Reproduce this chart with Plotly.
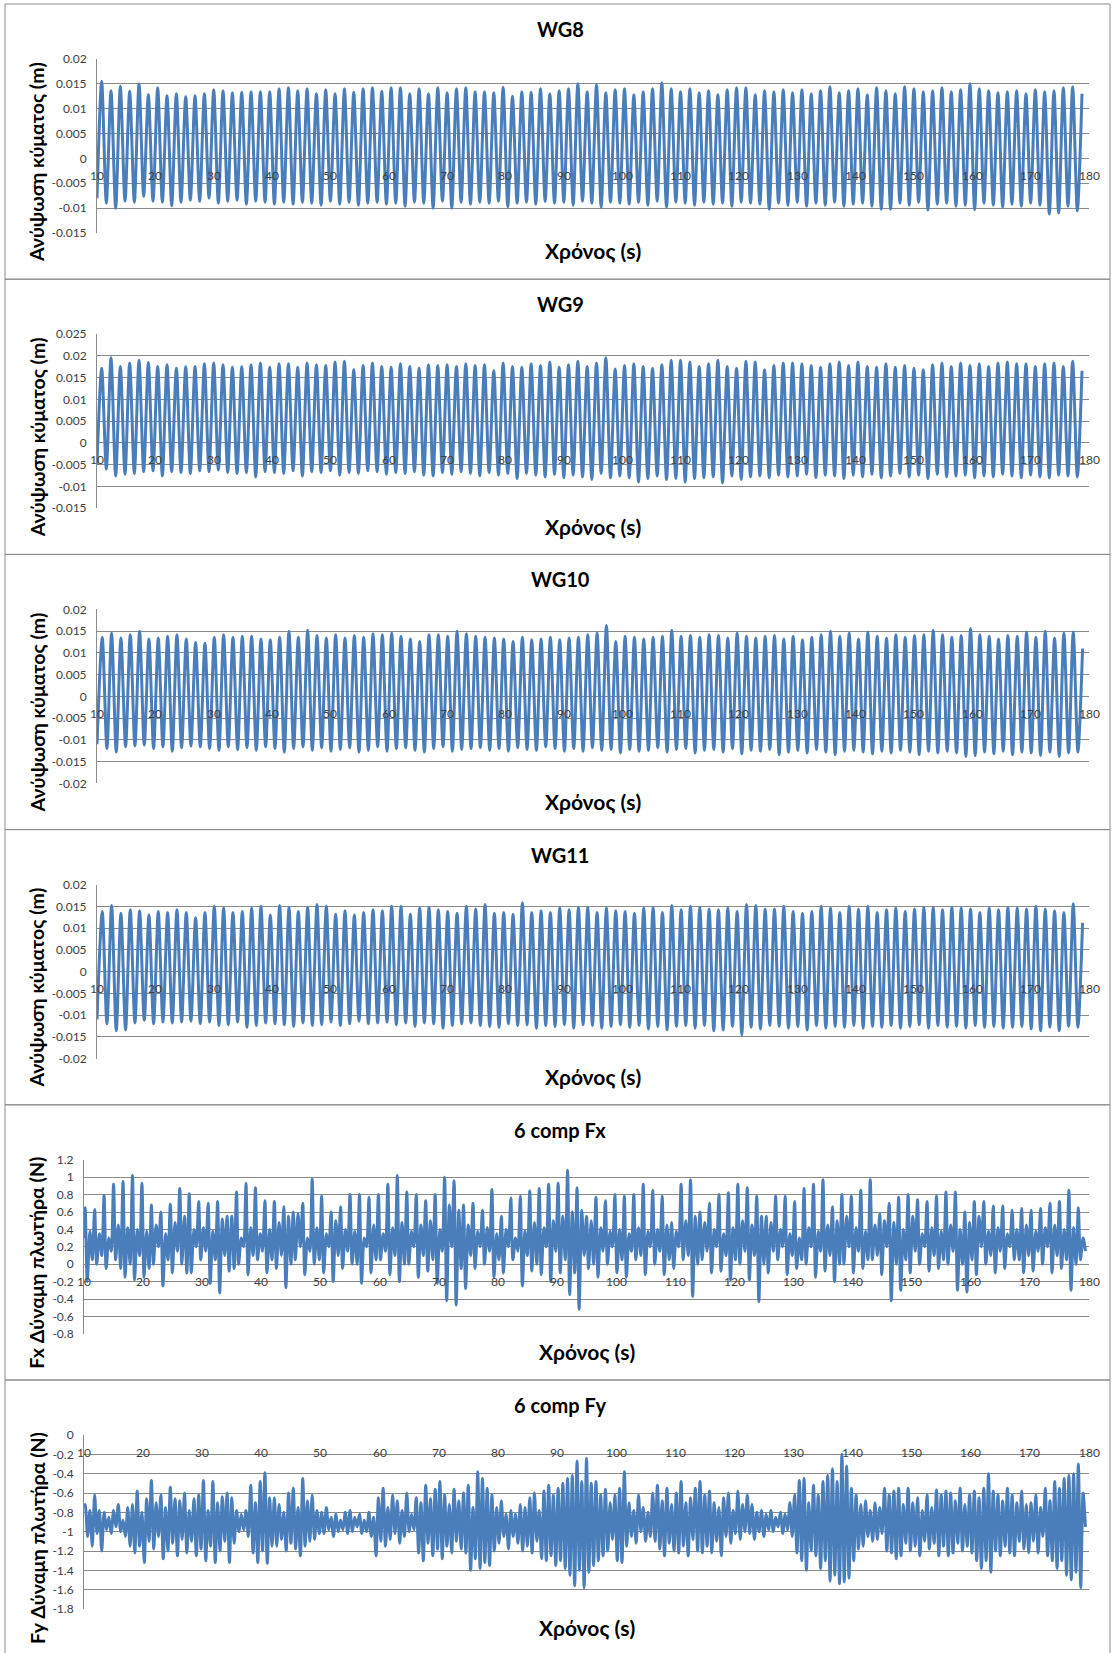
import plotly.graph_objects as go

# ---------------- DATA ----------------
# Wave gauges: crest and trough elevation of each wave cycle (mm)
WG8_PEAK_MM = [15.5,13.6,14.5,13.5,15.0,12.8,14.2,12.6,13.0,12.4,
               12.6,13.0,13.8,13.6,13.2,13.3,13.4,13.4,13.4,14.0,
               14.2,13.6,14.0,13.0,13.8,13.0,14.0,13.3,14.0,14.2,
               13.5,14.2,14.2,13.0,14.0,13.0,14.2,13.2,14.0,14.2,
               13.4,13.4,13.2,14.3,12.5,13.4,13.3,14.0,13.0,13.6,
               14.0,15.0,13.4,14.8,13.2,13.8,14.0,12.8,13.4,14.0,
               15.2,14.0,13.4,14.0,13.2,13.6,12.8,13.8,14.2,14.2,
               12.8,13.6,13.4,13.8,13.2,13.8,13.0,13.6,14.4,13.2,
               13.6,14.0,12.8,14.2,13.6,13.0,14.4,14.0,13.4,13.6,
               14.2,13.4,13.8,15.0,14.0,13.6,13.2,13.4,13.6,13.0,
               13.8,13.4,13.6,14.2,14.4,13.0]
WG8_TROUGH_MM = [-9.0,-10.0,-8.6,-8.8,-7.6,-8.6,-8.8,-9.5,-8.8,-8.4,
                 -8.6,-8.0,-9.0,-8.6,-8.4,-9.2,-8.6,-8.8,-9.2,-8.8,
                 -9.2,-8.8,-9.0,-9.4,-8.6,-9.2,-8.8,-9.4,-9.0,-8.8,
                 -9.2,-9.0,-9.6,-8.8,-9.0,-10.0,-8.6,-10.0,-8.8,-9.2,
                 -8.8,-9.0,-8.6,-9.7,-9.0,-8.8,-9.2,-8.6,-9.0,-8.8,
                 -9.4,-8.6,-9.0,-9.8,-8.8,-9.0,-9.2,-8.8,-9.4,-8.6,
                 -9.8,-8.8,-9.0,-9.4,-8.8,-9.2,-9.0,-9.6,-8.8,-9.0,
                 -9.2,-10.2,-9.0,-9.4,-8.8,-9.6,-9.0,-9.4,-8.8,-9.6,
                 -9.2,-9.0,-9.6,-10.2,-10.2,-9.0,-9.4,-8.8,-10.4,-9.2,
                 -9.0,-9.6,-9.4,-10.3,-9.0,-9.4,-9.8,-9.2,-9.6,-9.0,
                 -9.4,-11.2,-11.0,-9.6,-10.5]

WG9_PEAK_MM = [17.2,19.6,17.6,18.4,19.0,18.5,17.6,18.0,17.2,17.5,
               17.6,18.2,18.4,18.0,17.4,17.5,18.0,18.4,17.4,18.2,
               18.2,17.4,18.4,18.0,17.8,18.6,18.8,16.8,17.8,18.4,
               17.6,17.4,18.2,17.6,17.2,18.0,17.8,18.0,17.6,18.2,
               17.8,18.0,16.6,18.4,17.6,17.4,18.2,17.8,18.6,17.4,
               18.0,18.8,17.6,18.4,19.6,17.0,17.8,18.2,17.6,17.2,
               18.0,19.0,19.0,18.6,17.6,18.2,19.0,17.6,17.2,18.8,
               18.6,16.8,17.8,18.4,18.4,18.2,17.8,17.4,18.2,18.6,
               17.8,18.6,17.6,17.4,18.2,17.4,17.8,17.2,16.8,18.0,
               18.4,17.6,18.4,17.8,18.2,17.6,18.4,18.6,18.2,18.2,
               17.6,18.2,18.4,17.6,18.8,16.6]
WG9_TROUGH_MM = [-6.0,-7.6,-7.2,-7.0,-6.6,-6.4,-7.6,-6.6,-6.8,-7.0,
                 -6.4,-6.6,-6.2,-6.8,-7.0,-6.8,-7.8,-6.6,-6.8,-7.0,
                 -6.4,-7.6,-6.6,-6.8,-6.4,-7.4,-6.8,-7.0,-6.4,-6.6,
                 -7.2,-6.8,-7.0,-6.6,-7.4,-7.6,-6.8,-7.2,-6.6,-7.0,
                 -7.6,-6.8,-7.4,-7.0,-8.2,-7.0,-7.4,-7.8,-7.2,-8.0,
                 -7.4,-7.8,-8.4,-7.0,-8.0,-7.6,-8.0,-9.0,-8.2,-7.6,
                 -8.4,-8.2,-9.0,-8.2,-8.0,-7.8,-9.2,-7.6,-8.4,-7.8,
                 -7.6,-8.0,-7.4,-7.8,-7.6,-7.2,-8.0,-7.4,-7.6,-8.2,
                 -7.4,-7.8,-7.2,-8.0,-7.6,-7.0,-7.8,-7.4,-8.2,-7.2,
                 -7.8,-7.6,-7.4,-8.0,-7.6,-7.8,-7.2,-7.6,-8.0,-7.4,
                 -7.8,-8.0,-7.4,-7.6,-7.8]

WG10_PEAK_MM = [13.6,14.6,13.4,14.2,15.0,13.2,13.4,13.8,14.2,13.2,
                12.4,12.2,13.6,14.2,13.6,13.8,13.8,13.2,13.0,13.6,
                15.0,13.6,15.2,14.0,13.4,14.2,13.4,14.0,13.6,14.4,
                14.2,14.6,13.8,13.2,12.6,14.2,14.2,13.8,15.0,14.4,
                13.8,13.6,13.4,13.2,12.6,13.6,13.0,13.2,13.6,13.0,
                13.4,13.6,14.2,14.6,16.3,12.6,13.8,13.6,13.2,13.6,
                13.8,15.2,13.8,14.0,13.6,14.2,14.0,13.4,14.6,13.8,
                13.4,13.8,14.0,13.2,13.8,13.0,13.6,14.2,15.0,13.8,
                14.6,13.2,14.8,13.8,13.4,14.2,13.6,14.0,14.2,15.2,
                14.2,13.6,14.0,15.6,14.2,13.8,13.2,14.0,13.8,14.8,
                13.6,15.0,13.4,14.6,14.8,11.0]
WG10_TROUGH_MM = [-12.0,-12.8,-11.6,-11.4,-11.2,-12.0,-11.6,-12.6,-11.8,-11.4,
                  -11.6,-12.0,-12.4,-11.6,-12.2,-11.8,-12.4,-11.6,-12.0,-12.8,
                  -12.0,-11.6,-12.4,-11.8,-12.6,-12.2,-11.8,-12.8,-12.4,-11.6,
                  -12.6,-12.0,-11.8,-12.4,-12.8,-12.0,-11.6,-12.6,-12.2,-12.0,
                  -11.8,-12.4,-12.0,-12.6,-11.8,-12.2,-12.4,-11.6,-12.0,-12.6,
                  -12.0,-12.6,-11.8,-12.4,-12.2,-13.0,-12.2,-12.6,-12.4,-11.8,
                  -12.8,-12.2,-12.0,-13.0,-12.4,-12.2,-12.8,-12.0,-13.2,-12.4,
                  -12.6,-12.2,-13.4,-12.8,-12.4,-13.0,-12.2,-12.8,-13.4,-12.6,
                  -12.4,-12.8,-13.2,-12.6,-13.0,-12.4,-12.8,-13.4,-12.6,-13.0,
                  -12.6,-13.0,-13.8,-13.6,-12.8,-13.2,-12.6,-13.4,-12.8,-13.0,
                  -13.6,-12.8,-13.8,-13.0,-12.8]

WG11_PEAK_MM = [13.8,15.2,13.4,14.2,14.0,13.0,13.8,13.6,14.2,13.6,
                12.4,13.6,15.0,14.6,13.6,13.8,14.6,15.0,13.0,15.2,
                14.8,13.8,14.8,15.4,15.0,13.2,14.0,13.0,13.6,14.2,
                14.0,15.0,15.0,13.2,14.6,14.8,14.2,13.8,13.4,15.0,
                14.4,15.4,13.4,13.6,13.2,15.8,13.6,14.0,13.6,14.6,
                14.2,14.8,14.8,13.6,14.6,14.0,13.8,13.4,14.6,14.8,
                13.6,15.2,14.2,15.0,14.8,14.4,14.2,14.6,13.8,15.4,
                15.2,14.4,14.4,15.0,13.8,13.4,13.8,15.0,14.6,13.6,
                15.0,14.4,15.0,13.6,14.2,14.6,13.8,14.4,14.8,14.8,
                14.2,14.8,14.6,14.4,13.6,14.6,14.2,14.8,14.6,14.4,
                15.0,14.4,14.0,13.6,15.6,11.2]
WG11_TROUGH_MM = [-12.0,-13.6,-13.4,-11.8,-11.2,-12.0,-11.6,-11.8,-11.6,-11.4,
                  -12.0,-11.6,-12.4,-12.2,-11.6,-12.8,-12.4,-11.8,-12.0,-12.2,
                  -12.6,-11.8,-12.4,-12.2,-11.6,-12.4,-12.0,-11.4,-12.0,-11.8,
                  -11.6,-12.2,-11.8,-12.6,-11.8,-12.0,-13.0,-12.4,-12.0,-11.8,
                  -12.4,-12.6,-12.8,-12.0,-12.4,-12.2,-13.0,-12.4,-12.6,-12.2,
                  -13.0,-12.2,-12.4,-13.0,-12.6,-12.2,-12.8,-12.4,-13.2,-12.6,
                  -13.4,-12.6,-12.4,-13.0,-12.4,-13.6,-13.4,-12.6,-14.5,-12.8,
                  -13.2,-12.4,-12.6,-13.0,-12.6,-13.4,-12.4,-13.0,-12.6,-12.8,
                  -12.4,-13.0,-12.6,-12.8,-12.4,-13.0,-12.6,-12.2,-13.0,-12.4,
                  -12.8,-12.6,-13.0,-12.4,-12.8,-12.6,-13.0,-12.8,-12.6,-13.2,
                  -13.6,-12.8,-13.6,-12.6,-12.8]

# Fx (N): per wave cycle -> main spike, deep trough, secondary bump, dip
FX_PEAK = [0.65,0.63,0.79,0.92,0.95,1.02,0.93,0.68,0.60,0.69,
           0.87,0.81,0.72,0.70,0.72,0.55,0.83,0.93,0.88,0.73,
           0.72,0.66,0.60,0.70,0.98,0.78,0.60,0.66,0.80,0.80,
           0.77,0.80,0.92,1.02,0.83,0.80,0.73,0.80,1.00,0.96,
           0.68,0.70,0.62,0.86,0.55,0.76,0.78,0.84,0.87,0.92,
           0.93,1.08,0.88,0.55,0.77,0.73,0.80,0.78,0.80,0.92,
           0.85,0.78,0.48,0.92,0.97,0.60,0.70,0.80,0.82,0.92,
           0.88,0.78,0.55,0.78,0.78,0.72,0.87,0.92,0.97,0.66,
           0.80,0.78,0.85,0.97,0.58,0.70,0.77,0.80,0.74,0.72,
           0.78,0.83,0.83,0.60,0.72,0.72,0.67,0.67,0.62,0.64,
           0.62,0.64,0.70,0.72,0.85,0.65]
FX_LOW = [-0.20,0.00,-0.05,0.05,-0.15,-0.18,-0.15,0.00,-0.25,-0.10,
          0.00,-0.10,0.05,-0.22,-0.33,-0.08,0.00,-0.12,0.05,-0.10,
          -0.05,-0.27,0.05,-0.12,0.00,-0.10,-0.20,-0.05,0.00,-0.22,
          -0.10,0.05,-0.12,-0.20,0.00,-0.15,-0.08,-0.22,-0.42,-0.47,
          -0.28,-0.05,0.00,-0.15,-0.10,0.05,-0.25,-0.08,-0.12,-0.20,
          -0.10,-0.35,-0.52,-0.05,-0.15,0.00,-0.10,-0.15,0.05,-0.12,
          0.00,-0.12,-0.05,0.05,-0.37,0.05,-0.10,-0.08,-0.18,0.00,
          -0.18,-0.43,-0.10,0.05,-0.12,-0.05,0.00,-0.15,-0.08,-0.20,
          0.00,-0.10,-0.05,0.05,-0.12,-0.42,-0.30,-0.10,0.00,-0.08,
          -0.05,0.00,-0.30,-0.32,-0.12,0.00,-0.10,-0.05,0.05,-0.10,
          -0.08,0.00,-0.10,-0.05,-0.30,0.05]
FX_MID = [0.38,0.35,0.30,0.45,0.42,0.40,0.38,0.45,0.35,0.48,
          0.55,0.40,0.42,0.38,0.52,0.55,0.30,0.42,0.35,0.40,
          0.48,0.55,0.58,0.30,0.42,0.35,0.50,0.40,0.38,0.30,
          0.45,0.35,0.42,0.48,0.38,0.45,0.50,0.40,0.68,0.62,
          0.45,0.38,0.42,0.35,0.40,0.30,0.38,0.48,0.42,0.50,
          0.55,0.60,0.62,0.50,0.42,0.38,0.40,0.35,0.42,0.38,
          0.40,0.45,0.38,0.50,0.55,0.48,0.40,0.35,0.42,0.50,
          0.45,0.55,0.48,0.40,0.35,0.30,0.42,0.38,0.45,0.50,
          0.55,0.42,0.38,0.45,0.50,0.48,0.40,0.55,0.35,0.42,
          0.38,0.45,0.40,0.48,0.55,0.38,0.42,0.35,0.40,0.45,
          0.38,0.42,0.45,0.40,0.42,0.30]
FX_DIP = [0.05,0.10,0.15,-0.05,0.00,0.10,-0.05,0.20,0.05,0.15,
          -0.10,0.20,0.15,0.05,0.10,-0.05,0.20,0.10,0.15,0.05,
          0.10,0.00,0.20,0.15,0.05,0.20,0.10,0.15,0.00,0.20,
          0.05,0.15,0.10,0.00,0.20,0.10,0.05,0.15,0.20,-0.05,
          0.10,0.20,0.15,0.05,0.20,0.15,0.10,0.00,0.20,0.15,
          0.05,-0.10,0.10,0.00,0.15,0.20,0.05,0.15,0.10,0.20,
          0.15,0.05,0.20,0.10,0.00,0.15,0.20,0.10,0.05,0.15,
          0.10,0.00,0.15,0.20,0.10,0.05,0.20,0.15,0.10,0.00,
          0.20,0.15,0.05,0.10,0.20,0.00,0.05,0.15,0.20,0.10,
          0.05,0.15,0.00,0.05,0.20,0.10,0.15,0.20,0.05,0.10,
          0.15,0.20,0.10,0.05,0.00,0.15]

# Fy (N): alternating local maxima / minima (half-cycle of 0.8 s)
FY_UP = [-0.72,-0.78,-0.62,-0.78,-0.80,-0.85,-0.78,-0.72,-0.88,-0.75,
         -0.72,-0.58,-0.80,-0.66,-0.47,-0.70,-0.62,-0.75,-0.54,-0.66,
         -0.68,-0.60,-0.78,-0.66,-0.62,-0.47,-0.78,-0.48,-0.70,-0.64,
         -0.60,-0.65,-0.78,-0.82,-0.78,-0.52,-0.70,-0.48,-0.39,-0.65,
         -0.65,-0.72,-0.80,-0.60,-0.55,-0.75,-0.45,-0.68,-0.62,-0.78,
         -0.80,-0.75,-0.85,-0.82,-0.88,-0.80,-0.78,-0.85,-0.82,-0.88,
         -0.80,-0.85,-0.65,-0.55,-0.75,-0.62,-0.68,-0.78,-0.60,-0.82,
         -0.65,-0.70,-0.52,-0.66,-0.56,-0.48,-0.62,-0.72,-0.56,-0.68,
         -0.60,-0.52,-0.75,-0.38,-0.45,-0.55,-0.62,-0.75,-0.68,-0.82,
         -0.78,-0.82,-0.72,-0.75,-0.65,-0.60,-0.78,-0.58,-0.52,-0.62,
         -0.55,-0.50,-0.45,-0.42,-0.27,-0.48,-0.24,-0.50,-0.48,-0.62,
         -0.56,-0.70,-0.62,-0.55,-0.38,-0.70,-0.78,-0.62,-0.75,-0.80,
         -0.60,-0.52,-0.68,-0.55,-0.72,-0.60,-0.48,-0.70,-0.65,-0.55,
         -0.48,-0.62,-0.58,-0.70,-0.75,-0.65,-0.60,-0.78,-0.58,-0.72,
         -0.62,-0.72,-0.80,-0.78,-0.82,-0.78,-0.85,-0.80,-0.82,-0.70,
         -0.62,-0.47,-0.45,-0.70,-0.52,-0.62,-0.48,-0.42,-0.35,-0.48,
         -0.20,-0.32,-0.55,-0.62,-0.72,-0.68,-0.78,-0.70,-0.75,-0.55,
         -0.62,-0.58,-0.55,-0.72,-0.55,-0.70,-0.65,-0.78,-0.62,-0.75,
         -0.57,-0.62,-0.58,-0.60,-0.68,-0.55,-0.72,-0.62,-0.58,-0.65,
         -0.55,-0.40,-0.58,-0.62,-0.68,-0.55,-0.62,-0.70,-0.58,-0.72,
         -0.70,-0.62,-0.75,-0.55,-0.68,-0.48,-0.55,-0.45,-0.42,-0.40,
         -0.30,-0.60]
FY_DOWN = [-1.05,-1.15,-1.02,-1.20,-0.98,-1.02,-0.95,-1.00,-1.05,-1.15,
           -1.22,-1.15,-1.32,-1.10,-1.18,-1.05,-1.28,-1.20,-1.12,-1.25,
           -1.08,-1.22,-1.10,-1.25,-1.18,-1.30,-1.15,-1.32,-1.20,-1.10,
           -1.32,-1.12,-1.00,-0.98,-1.05,-1.22,-1.32,-1.20,-1.33,-1.15,
           -1.15,-1.08,-1.20,-1.12,-1.18,-1.25,-1.15,-1.10,-1.08,-1.02,
           -1.02,-0.98,-1.05,-1.00,-0.98,-1.02,-1.00,-0.95,-1.02,-1.00,
           -1.05,-1.25,-1.10,-1.15,-1.08,-1.02,-1.12,-1.05,-1.00,-0.98,
           -1.22,-1.30,-1.12,-1.25,-1.18,-1.28,-1.15,-1.22,-1.10,-1.18,
           -1.22,-1.40,-1.28,-1.38,-1.32,-1.35,-1.20,-1.12,-1.05,-1.18,
           -1.05,-1.12,-1.20,-1.15,-1.22,-1.10,-1.28,-1.30,-1.25,-1.35,
           -1.30,-1.38,-1.45,-1.56,-1.40,-1.58,-1.42,-1.35,-1.30,-1.25,
           -1.20,-1.08,-1.30,-1.32,-1.15,-1.05,-1.12,-1.00,-1.10,-1.05,
           -1.10,-1.18,-1.25,-1.12,-1.20,-1.22,-1.15,-1.25,-1.08,-1.20,
           -1.22,-1.15,-1.22,-1.10,-1.25,-1.05,-1.12,-1.02,-1.08,-1.00,
           -1.02,-1.08,-1.00,-1.05,-0.98,-1.00,-0.95,-1.02,-0.98,-1.05,
           -1.22,-1.30,-1.40,-1.20,-1.25,-1.38,-1.30,-1.51,-1.45,-1.54,
           -1.52,-1.48,-1.30,-1.18,-1.15,-1.05,-1.10,-1.08,-1.02,-1.20,
           -1.22,-1.28,-1.25,-1.12,-1.20,-1.15,-1.25,-1.10,-1.18,-1.12,
           -1.25,-1.15,-1.25,-1.22,-1.12,-1.20,-1.15,-1.22,-1.30,-1.38,
           -1.30,-1.42,-1.20,-1.25,-1.15,-1.22,-1.25,-1.10,-1.18,-1.22,
           -1.10,-1.22,-1.05,-1.25,-1.30,-1.38,-1.30,-1.45,-1.50,-1.42,
           -1.58,-0.95]

X_TICKS = [10, 20, 30, 40, 50, 60, 70, 80, 90, 100, 110, 120, 130, 140, 150, 160, 170, 180]

TITLES = ["WG8", "WG9", "WG10", "WG11", "6 comp Fx", "6 comp Fy"]
Y_TITLES = ["Ανύψωση κύματος (m)"] * 4 + ["Fx Δύναμη πλωτήρα (N)", "Fy Δύναμη πλωτήρα (N)"]
X_TITLE = "Χρόνος (s)"

Y_TICKS = [
    ["-0.015", "-0.01", "-0.005", "0", "0.005", "0.01", "0.015", "0.02"],
    ["-0.015", "-0.01", "-0.005", "0", "0.005", "0.01", "0.015", "0.02", "0.025"],
    ["-0.02", "-0.015", "-0.01", "-0.005", "0", "0.005", "0.01", "0.015", "0.02"],
    ["-0.02", "-0.015", "-0.01", "-0.005", "0", "0.005", "0.01", "0.015", "0.02"],
    ["-0.8", "-0.6", "-0.4", "-0.2", "0", "0.2", "0.4", "0.6", "0.8", "1", "1.2"],
    ["-1.8", "-1.6", "-1.4", "-1.2", "-1", "-0.8", "-0.6", "-0.4", "-0.2", "0"],
]

# ---------------- SERIES BUILDING ----------------
T_WAVE = 1.6


def wave_series(start_val, peaks_mm, troughs_mm, t_first=10.8):
    t, v = [10.0], [start_val / 1000.0]
    for i, p in enumerate(peaks_mm):
        t.append(t_first + T_WAVE * i)
        v.append(p / 1000.0)
        if i < len(troughs_mm):
            t.append(t_first + T_WAVE * i + T_WAVE / 2)
            v.append(troughs_mm[i] / 1000.0)
    return t, v


def fx_series():
    t, v = [10.0], [0.30]
    for i in range(len(FX_PEAK)):
        base = 10.2 + T_WAVE * i
        for off, arr in ((0.0, FX_PEAK), (0.35, FX_LOW), (0.8, FX_MID), (1.2, FX_DIP)):
            t.append(base + off)
            v.append(arr[i])
    return t, v


def fy_series():
    t, v = [10.0], [-0.75]
    for j in range(len(FY_UP)):
        t.append(10.2 + 0.8 * j)
        v.append(FY_UP[j])
        t.append(10.6 + 0.8 * j)
        v.append(FY_DOWN[j])
    return t, v


series = [
    wave_series(-8.0, WG8_PEAK_MM, WG8_TROUGH_MM),
    wave_series(-5.0, WG9_PEAK_MM, WG9_TROUGH_MM),
    wave_series(-11.0, WG10_PEAK_MM, WG10_TROUGH_MM, 10.9),
    wave_series(-11.0, WG11_PEAK_MM, WG11_TROUGH_MM, 10.9),
    fx_series(),
    fy_series(),
]

# ---------------- LAYOUT ----------------
W, H = 1112, 1653
PANEL_H = 275.2
PANEL_TOP0 = 4.0
LINE_COLOR = "#4a7ebb"
GRID = "#8a8a8a"
FONT = "Lato, 'Noto Sans', sans-serif"
TICK_COLOR = "#404040"


def px(x):
    return x / W


def py(y):
    return 1 - y / H


fig = go.Figure()
annotations = []
shapes = []

for k in range(6):
    n = "" if k == 0 else str(k + 1)
    pt = PANEL_TOP0 + PANEL_H * k
    left = 97 if k < 4 else 84
    right = 1089
    top = pt + 55
    bottom = pt + 229
    tick_text = Y_TICKS[k]
    tick_vals = [float(s) for s in tick_text]

    t, v = series[k]
    fig.add_trace(go.Scatter(
        x=t, y=v, mode="lines", xaxis="x" + n, yaxis="y" + n,
        line=dict(color=LINE_COLOR, width=3, shape="spline", smoothing=0.8),
        hoverinfo="skip", showlegend=False,
    ))

    fig.layout["xaxis" + n] = dict(
        domain=[px(left), px(right)], range=[10, 180], anchor="y" + n,
        showticklabels=False, showgrid=False, zeroline=False, showline=False,
        ticks="", automargin=False,
    )
    fig.layout["yaxis" + n] = dict(
        domain=[py(bottom), py(top)], range=[tick_vals[0], tick_vals[-1]],
        anchor="x" + n, tickmode="array", tickvals=tick_vals, ticktext=tick_text,
        showgrid=True, gridcolor=GRID, gridwidth=1, zeroline=False,
        showline=True, linecolor=GRID, linewidth=1, ticks="",
        tickfont=dict(family=FONT, size=12, color=TICK_COLOR),
        ticklabelstandoff=7, automargin=False,
    )

    # category labels sit next to the horizontal axis crossing at 0
    for xt in X_TICKS:
        annotations.append(dict(
            x=xt, y=0, xref="x" + n, yref="y" + n, text=str(xt), showarrow=False,
            yshift=-17, xanchor="center", yanchor="middle",
            font=dict(family=FONT, size=12, color=TICK_COLOR),
        ))

    # chart title
    annotations.append(dict(
        x=px(560), y=py(pt + 25), xref="paper", yref="paper", text="<b>%s</b>" % TITLES[k],
        showarrow=False, xanchor="center", yanchor="middle",
        font=dict(family=FONT, size=20, color="#000000"),
    ))
    # x-axis title
    annotations.append(dict(
        x=px((left + right) / 2), y=py(pt + 247), xref="paper", yref="paper",
        text="<b>%s</b>" % X_TITLE, showarrow=False, xanchor="center", yanchor="middle",
        font=dict(family=FONT, size=21, color="#000000"),
    ))
    # y-axis title
    annotations.append(dict(
        x=px(37), y=py(pt + 158), xref="paper", yref="paper",
        text="<b>%s</b>" % Y_TITLES[k], showarrow=False, textangle=-90,
        xanchor="center", yanchor="middle",
        font=dict(family=FONT, size=19.5, color="#000000"),
    ))

    # chart border
    shapes.append(dict(
        type="rect", xref="paper", yref="paper",
        x0=px(5), x1=px(1110), y0=py(pt + PANEL_H), y1=py(pt),
        line=dict(color="#8c8c8c", width=1), fillcolor="rgba(0,0,0,0)", layer="above",
    ))

fig.update_layout(
    template="none",
    width=W, height=H, autosize=False,
    margin=dict(l=0, r=0, t=0, b=0, pad=0, autoexpand=False),
    paper_bgcolor="white", plot_bgcolor="white",
    annotations=annotations, shapes=shapes,
    showlegend=False,
)

fig.write_html(
    "out.html",
    config={"displayModeBar": False, "staticPlot": True},
    post_script=(
        "document.documentElement.style.margin='0px';"
        "document.body.style.margin='0px';document.body.style.padding='0px';"
        "var gd=document.getElementById('{plot_id}');"
        "gd.style.position='fixed';gd.style.top='0px';gd.style.left='0px';"
    ),
)
